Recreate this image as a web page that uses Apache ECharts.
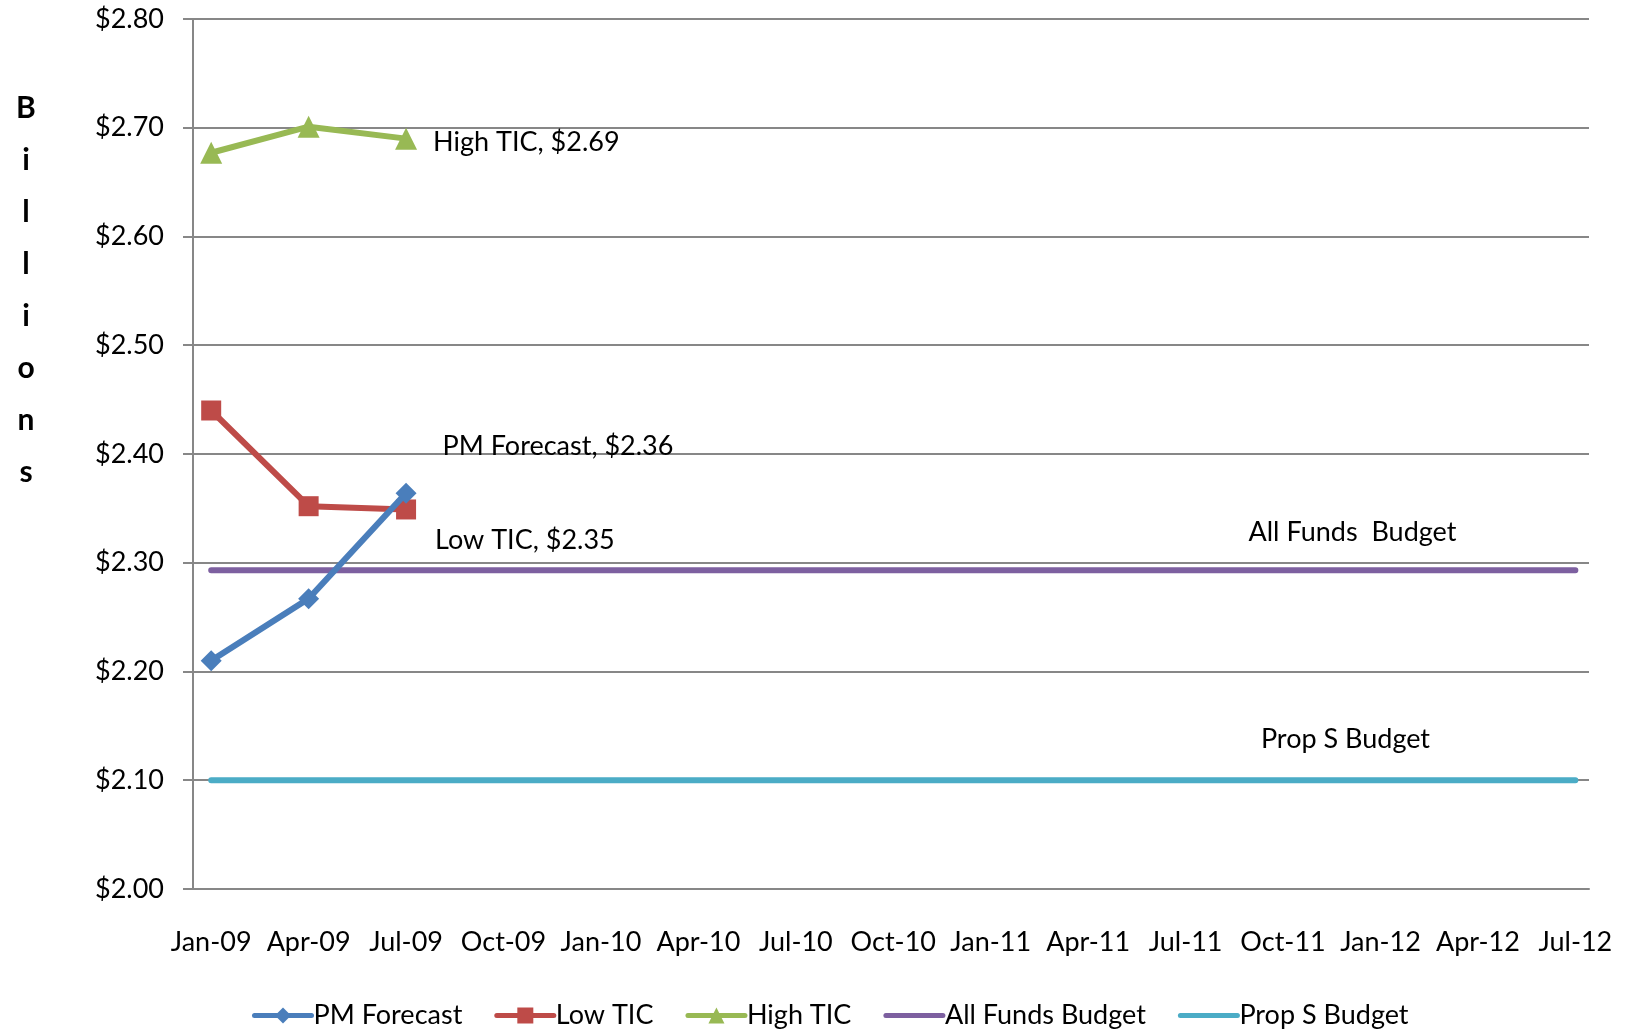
<!DOCTYPE html>
<html>
<head>
<meta charset="utf-8">
<title>TIC forecast vs budget</title>
<script src="https://cdn.jsdelivr.net/npm/echarts@6.0.0/dist/echarts.min.js"></script>
<style>
  html, body { margin: 0; padding: 0; background: #fff; }
  #main { width: 1627px; height: 1034px; }
</style>
</head>
<body>
<div id="main"></div>
<script>
// quarterly ticks on the date axis
var quarterLabels = ['Jan-09', 'Apr-09', 'Jul-09', 'Oct-09', 'Jan-10', 'Apr-10', 'Jul-10', 'Oct-10',
  'Jan-11', 'Apr-11', 'Jul-11', 'Oct-11', 'Jan-12', 'Apr-12', 'Jul-12'];

// values in billions, one per quarter
var pmForecast = [2.21, 2.267, 2.364];
var lowTic = [2.44, 2.352, 2.349];
var highTic = [2.677, 2.701, 2.69];
var allFundsBudget = [2.293, 2.293, 2.293, 2.293, 2.293, 2.293, 2.293, 2.293,
  2.293, 2.293, 2.293, 2.293, 2.293, 2.293, 2.293];
var propSBudget = [2.10, 2.10, 2.10, 2.10, 2.10, 2.10, 2.10, 2.10,
  2.10, 2.10, 2.10, 2.10, 2.10, 2.10, 2.10];

var yTicks = [2.0, 2.1, 2.2, 2.3, 2.4, 2.5, 2.6, 2.7, 2.8];

var FONT = 'Lato';
var GRID_GRAY = '#878787';

// x is months since Jan-09 (3 per quarter)
function toPoints(values, labelIndex, label) {
  return values.map(function (v, i) {
    var p = { value: [i * 3, v] };
    if (i === labelIndex) {
      p.label = label;
      if (label.symbol) { p.symbol = label.symbol; p.symbolSize = 0; }
    }
    return p;
  });
}

var labelText = { fontFamily: FONT, fontSize: 27, color: '#000' };

var chart = echarts.init(document.getElementById('main'));

var option = {
  animation: false,
  backgroundColor: '#fff',
  textStyle: { fontFamily: FONT },
  grid: { left: 193, right: 38, top: 19, bottom: 145 },
  graphic: [{
    type: 'text',
    x: 26, y: 82,
    style: {
      text: 'B\ni\nl\nl\ni\no\nn\ns',
      font: 'bold 30px Lato',
      lineHeight: 52,
      align: 'center',
      fill: '#000'
    }
  }],
  legend: {
    left: 247, top: 997,
    itemWidth: 57, itemHeight: 20, itemGap: 32,
    lineStyle: { width: 5 },
    textStyle: { fontFamily: FONT, fontSize: 27, color: '#000', padding: [0, 0, 0, -3] },
    data: [
      'PM Forecast', 'Low TIC', 'High TIC',
      { name: 'All Funds Budget', itemStyle: { opacity: 0 } },
      { name: 'Prop S Budget', itemStyle: { opacity: 0 } }
    ]
  },
  xAxis: {
    type: 'value',
    min: -0.56, max: 42.42,
    splitLine: { show: false },
    axisTick: { show: false },
    axisLine: { show: true, onZero: false, lineStyle: { color: GRID_GRAY, width: 2 } },
    axisLabel: {
      customValues: quarterLabels.map(function (q, i) { return i * 3; }),
      formatter: function (v) { return quarterLabels[Math.round(v / 3)]; },
      margin: 40,
      fontFamily: FONT, fontSize: 27, color: '#000'
    }
  },
  yAxis: {
    type: 'value',
    min: yTicks[0], max: yTicks[yTicks.length - 1], interval: 0.1,
    axisLine: { show: true, onZero: false, lineStyle: { color: GRID_GRAY, width: 2 } },
    axisTick: { show: true, length: 10, lineStyle: { color: GRID_GRAY, width: 2 } },
    splitLine: { lineStyle: { color: GRID_GRAY, width: 2 } },
    axisLabel: {
      formatter: function (v) { return '$' + v.toFixed(2); },
      margin: 29,
      fontFamily: FONT, fontSize: 27, color: '#000'
    }
  },
  series: [
    {
      name: 'PM Forecast', type: 'line',
      symbol: 'diamond', symbolSize: 21,
      color: '#4A7EBB',
      lineStyle: { width: 6, cap: 'round', join: 'round' },
      z: 4,
      data: toPoints(pmForecast, 2, Object.assign({ show: true, position: 'right', offset: [21, -47],
        formatter: 'PM Forecast, $2.36' }, labelText))
    },
    {
      name: 'Low TIC', type: 'line',
      symbol: 'rect', symbolSize: 20,
      color: '#BE4B48',
      lineStyle: { width: 6, cap: 'round', join: 'round' },
      z: 3,
      data: toPoints(lowTic, 2, Object.assign({ show: true, position: 'right', offset: [14, 31],
        formatter: 'Low TIC, $2.35' }, labelText))
    },
    {
      name: 'High TIC', type: 'line',
      symbol: 'triangle', symbolSize: 22,
      color: '#98B954',
      lineStyle: { width: 6, cap: 'round', join: 'round' },
      z: 3,
      data: toPoints(highTic, 2, Object.assign({ show: true, position: 'right', offset: [11, 4],
        formatter: 'High TIC, $2.69' }, labelText))
    },
    {
      name: 'All Funds Budget', type: 'line',
      symbol: 'none',
      color: '#7D60A0',
      lineStyle: { width: 6, cap: 'round' },
      z: 2,
      data: toPoints(allFundsBudget, 12, Object.assign({ show: true, position: 'top', offset: [-28, -20],
        formatter: 'All Funds  Budget', symbol: 'circle' }, labelText))
    },
    {
      name: 'Prop S Budget', type: 'line',
      symbol: 'none',
      color: '#4BACC6',
      lineStyle: { width: 6, cap: 'round' },
      z: 2,
      data: toPoints(propSBudget, 12, Object.assign({ show: true, position: 'top', offset: [-35, -22],
        formatter: 'Prop S Budget', symbol: 'circle' }, labelText))
    }
  ]
};

chart.setOption(option);
</script>
</body>
</html>
